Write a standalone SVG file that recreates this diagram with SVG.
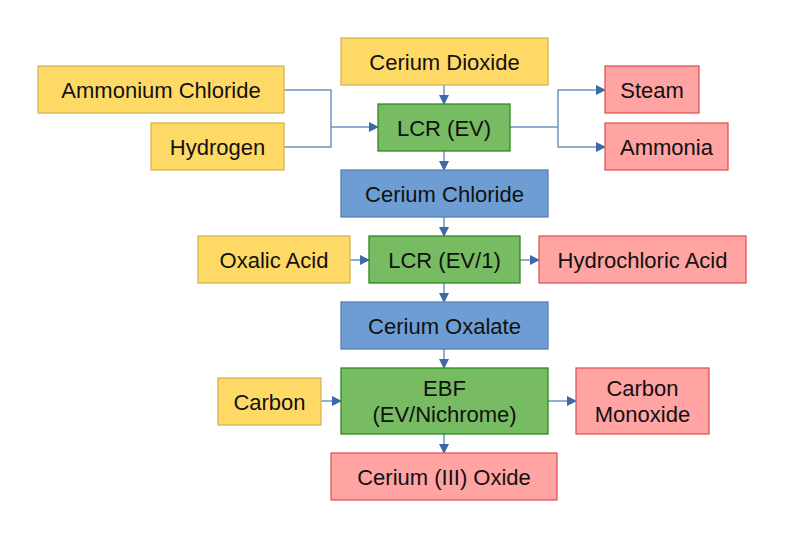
<svg xmlns="http://www.w3.org/2000/svg" width="794" height="544" viewBox="0 0 794 544">
<defs>
<marker id="a" markerWidth="10" markerHeight="10" refX="9" refY="5" orient="auto" markerUnits="userSpaceOnUse"><path d="M0,0 L10,5 L0,10 Z" fill="#3a6aa8"/></marker>
<style>
text{font-family:"Liberation Sans",Arial,sans-serif;font-size:22px;fill:#111;text-anchor:middle;dominant-baseline:central}
.y{fill:#ffd966;stroke:#d6b656;stroke-width:1.3}
.g{fill:#77bb63;stroke:#2f8a1f;stroke-width:1.3}
.r{fill:#ffa3a3;stroke:#e05555;stroke-width:1.3}
.b{fill:#6d9dd3;stroke:#5a80b0;stroke-width:1.3}
.c{fill:none;stroke:#6f93c0;stroke-width:1.5}
.c2{fill:none;stroke:#6f93c0;stroke-width:1.5;marker-end:url(#a)}
</style>
</defs>
<rect width="794" height="544" fill="#fff"/>
<g id="connectors">
<path class="c" d="M284,90 H331 V147 H284"/>
<path class="c2" d="M331,127 H378"/>
<path class="c2" d="M444,85 V104"/>
<path class="c" d="M510,127 H558"/>
<path class="c2" d="M558,127 V90 H605"/>
<path class="c2" d="M558,127 V147 H605"/>
<path class="c2" d="M444,151 V170"/>
<path class="c2" d="M444,217 V236"/>
<path class="c2" d="M350,260 H369"/>
<path class="c2" d="M520,260 H539"/>
<path class="c2" d="M444,283 V302"/>
<path class="c2" d="M444,349 V368"/>
<path class="c2" d="M321,401 H341"/>
<path class="c2" d="M548,401 H576"/>
<path class="c2" d="M444,434 V453"/>
</g>
<g id="n1"><rect class="y" x="341" y="38" width="207" height="47"/><text x="444.5" y="62">Cerium Dioxide</text></g>
<g id="n2"><rect class="y" x="38" y="66" width="246" height="47"/><text x="161" y="90">Ammonium Chloride</text></g>
<g id="n3"><rect class="y" x="151" y="123" width="133" height="47"/><text x="217.5" y="147">Hydrogen</text></g>
<g id="n4"><rect class="g" x="378" y="104" width="132" height="47"/><text x="444" y="128">LCR (EV)</text></g>
<g id="n5"><rect class="r" x="605" y="66" width="94" height="47"/><text x="652" y="90">Steam</text></g>
<g id="n6"><rect class="r" x="605" y="123" width="123" height="47"/><text x="666.5" y="147">Ammonia</text></g>
<g id="n7"><rect class="b" x="341" y="170" width="207" height="47"/><text x="444.5" y="194">Cerium Chloride</text></g>
<g id="n8"><rect class="y" x="198" y="236" width="152" height="47"/><text x="274" y="260">Oxalic Acid</text></g>
<g id="n9"><rect class="g" x="369" y="236" width="151" height="47"/><text x="444.5" y="260">LCR (EV/1)</text></g>
<g id="n10"><rect class="r" x="539" y="236" width="207" height="47"/><text x="642.5" y="260">Hydrochloric Acid</text></g>
<g id="n11"><rect class="b" x="341" y="302" width="207" height="47"/><text x="444.5" y="326">Cerium Oxalate</text></g>
<g id="n12"><rect class="y" x="218" y="378" width="103" height="47"/><text x="269.5" y="402">Carbon</text></g>
<g id="n13"><rect class="g" x="341" y="368" width="207" height="66"/><text x="444.5" y="388">EBF</text><text x="444.5" y="414">(EV/Nichrome)</text></g>
<g id="n14"><rect class="r" x="576" y="368" width="133" height="66"/><text x="642.5" y="388">Carbon</text><text x="642.5" y="414">Monoxide</text></g>
<g id="n15"><rect class="r" x="331" y="453" width="226" height="47"/><text x="444" y="477">Cerium (III) Oxide</text></g>
</svg>
